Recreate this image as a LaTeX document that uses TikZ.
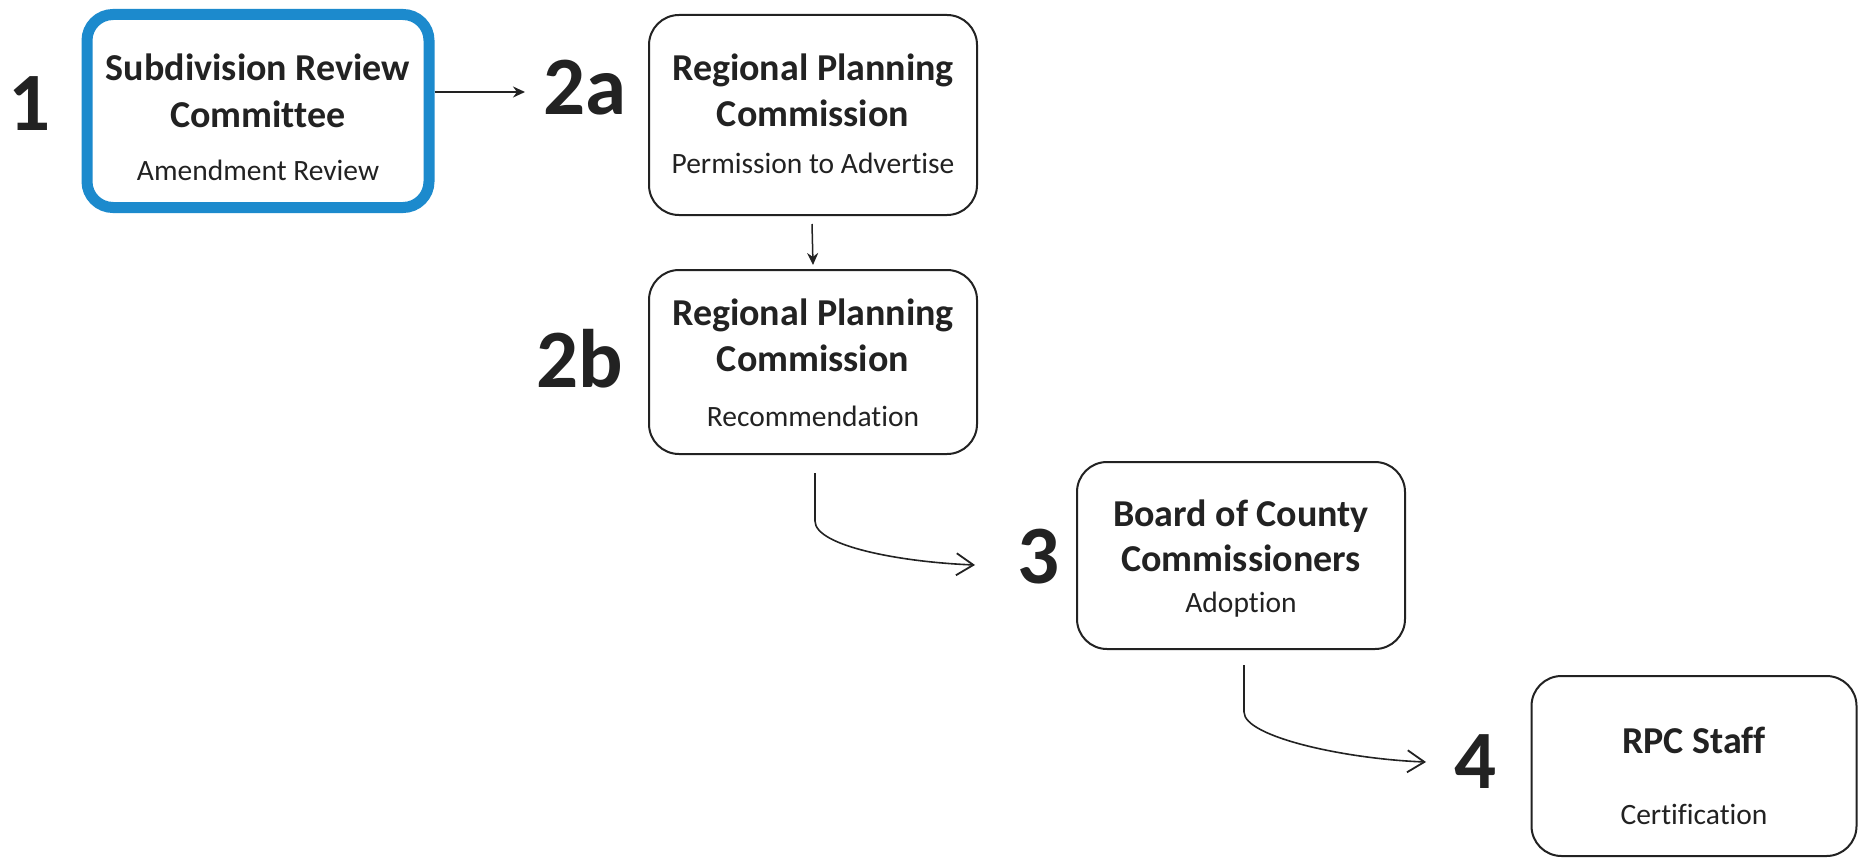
\documentclass[tikz,border=0pt]{standalone}
\usepackage{fontspec}
\setmainfont{Carlito}[Ligatures={NoCommon}]
\usetikzlibrary{arrows.meta}
\definecolor{srcblue}{RGB}{28,138,205}
\definecolor{ink}{RGB}{34,34,34}
\begin{document}
\begin{tikzpicture}[x=1pt,y=-1pt,
  box/.style={draw=ink,line width=2pt,rounded corners=30pt,inner sep=0pt},
  title/.style={anchor=base,font=\fontsize{38}{46}\selectfont\bfseries,text=ink,inner sep=0pt},
  sub/.style={anchor=base,font=\fontsize{29.5}{35}\selectfont,text=ink,inner sep=0pt},
  num/.style={font=\fontsize{83}{100}\selectfont\bfseries,text=ink,inner sep=0pt},
  arr/.style={draw=ink,line width=1.5pt,-{Stealth[length=12pt,width=11pt]}},
  carr/.style={draw=ink,line width=1.6pt,-{Straight Barb[length=17pt,width=22pt,line width=1.8pt]}}]
\useasboundingbox (0,0) rectangle (1859,859);
\fill[white] (0,0) rectangle (1859,859);

% boxes
\node[box,draw=srcblue,line width=11pt,rounded corners=26pt,minimum width=342pt,minimum height=193pt] (b1) at (258,111) {};
\node[box,minimum width=328pt,minimum height=200pt] (b2a) at (813,115) {};
\node[box,minimum width=328pt,minimum height=184pt] (b2b) at (813,362) {};
\node[box,minimum width=328pt,minimum height=187pt] (b3) at (1241,555.5) {};
\node[box,minimum width=325pt,minimum height=180pt] (b4) at (1694,766) {};

% texts
\node[title] (t1a) at (258,80) {Subdivision Review};
\node[title] (t1b) at (258,127) {Committee};
\node[sub] (s1) at (258,180) {Amendment Review};

\node[title] (t2aa) at (813,80) {Regional Planning};
\node[title] (t2ab) at (813,126) {Commission};
\node[sub] (s2a) at (813,173) {Permission to Advertise};

\node[title] (t2ba) at (813,325) {Regional Planning};
\node[title] (t2bb) at (813,371) {Commission};
\node[sub] (s2b) at (813,426) {Recommendation};

\node[title] (t3a) at (1241,526) {Board of County};
\node[title] (t3b) at (1241,571) {Commissioners};
\node[sub] (s3) at (1241,612) {Adoption};

\node[title] (t4a) at (1694,753) {RPC Staff};
\node[sub] (s4) at (1694,824) {Certification};

% step numbers
\node[num] (n1) at (30,104) {1};
\node[num] (n2a) at (585,88) {2a};
\node[num] (n2b) at (580,359) {2b};
\node[num] (n3) at (1039,557) {3};
\node[num] (n4) at (1476,762) {4};

% connectors
\coordinate (e1) at (525,92);
\draw[arr] (b1.east |- e1) -- (e1);
\draw[arr] ([xshift=-1pt,yshift=-8pt]b2a.south) -- ([yshift=4pt]b2b.north);
\coordinate (e3) at (975,565);
\draw[carr] ([xshift=2pt,yshift=-18pt]b2b.south) -- ++(0,48) .. controls +(0,25) and +(-75,-3) .. (e3);
\coordinate (e4) at (1426,762);
\draw[carr] ([xshift=3pt,yshift=-15pt]b3.south) -- ++(0,47) .. controls +(0,25) and +(-80,-3) .. (e4);
\end{tikzpicture}
\end{document}
